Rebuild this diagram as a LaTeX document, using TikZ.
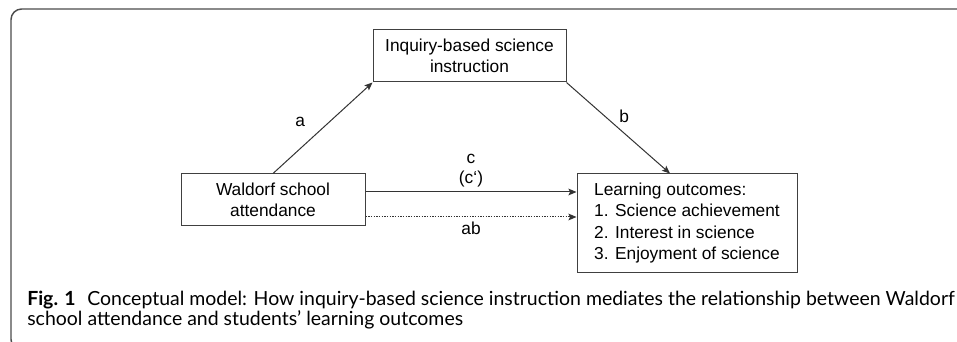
\documentclass[tikz,border=0pt]{standalone}
\usepackage{fontspec}
\setmainfont{Liberation Sans}
\newfontfamily\capfont{Lato}
\usetikzlibrary{positioning, arrows.meta}

\begin{document}
\begin{tikzpicture}[
    x=0.75pt, y=-0.75pt,
    >={Stealth[length=6pt, width=5pt, inset=1.2pt]},
    every node/.style={font=\fontsize{13}{16}\selectfont},
    box/.style={draw=black!75, line width=0.75pt, inner sep=0pt, align=center, minimum height=39pt},
    link/.style={->, line width=0.75pt, draw=black!80},
    lbl/.style={inner sep=1pt}
]

   % Frame
   \useasboundingbox (0,0) rectangle (957,342);
   \begin{scope}
      \clip (0,0) rectangle (957,342);
      \draw[black!70, line width=1.1pt, rounded corners=8pt] (970,9) -- (11,9) -- (11,350) -- (970,350);
   \end{scope}

   % Boxes
   \node[box, minimum width=144.75pt] (ibsi) at (469.5,56) {Inquiry-based science\\instruction};
   \node[box, minimum width=138pt] (wsa) at (273,200) {Waldorf school\\attendance};
   \node[box, minimum width=165pt, minimum height=73.5pt, align=left] (lo) at (687,223)
        {Learning outcomes:\\1. Science achievement\\2. Interest in science\\3. Enjoyment of science};

   % Paths
   \coordinate (cTail) at ([yshift=6pt]wsa.east);
   \coordinate (abTail) at ([yshift=-12.75pt]wsa.east);
   \coordinate (bHead) at ([xshift=-12.75pt]lo.north);

   \draw[link] (wsa.north) -- node[lbl, pos=0.5, xshift=-17pt, yshift=4.5pt] (lblA) {a} (ibsi.south west);
   \draw[link] (ibsi.south east) -- node[lbl, pos=0.5, xshift=4.5pt, yshift=9pt] (lblB) {b} (bHead);
   \draw[link] (cTail) -- node[lbl, above, align=center, yshift=2pt, font=\fontsize{13}{15}\selectfont] (lblC) {c\\(c‘)} (cTail -| lo.west);
   \draw[link, dash pattern=on 1pt off 1pt] (abTail) -- node[lbl, below, yshift=-2pt] (lblAB) {ab} (abTail -| lo.west); % indirect effect

   % Caption
   \node[anchor=west, align=left, inner sep=0pt, font=\capfont\fontsize{14.6}{15.3}\selectfont] (cap) at (27,310)
        {\textbf{Fig. 1}\hspace{0.6em}Conceptual model: How inquiry-based science instruction mediates the relationship between Waldorf\\school attendance and students’ learning outcomes};
\end{tikzpicture}
\end{document}
